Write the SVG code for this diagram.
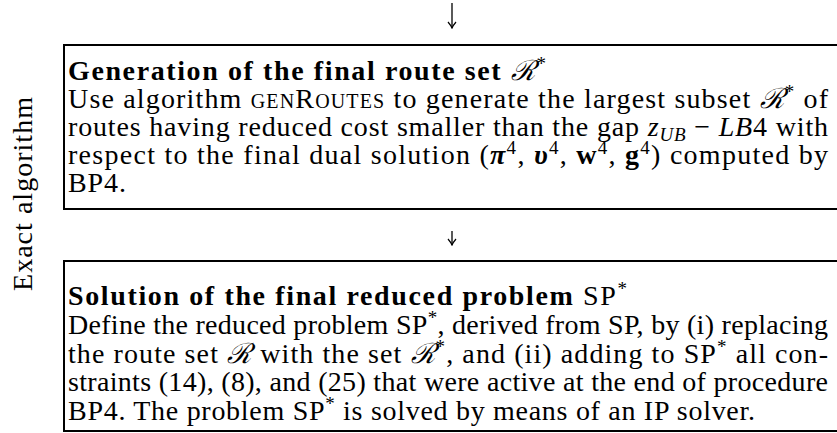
<svg xmlns="http://www.w3.org/2000/svg" width="837" height="433" viewBox="0 0 837 433">
<style>
.t{font-family:"Liberation Serif","Times New Roman",serif;font-size:28px;fill:#000}
.b{font-weight:bold}
.i{font-style:italic}
.bi{font-weight:bold;font-style:italic}
.sc{font-variant:small-caps}
.s{font-size:19px}
.scr{font-family:"DejaVu Serif",serif;font-style:italic;font-weight:normal}
.box{fill:#fff;stroke:#000;stroke-width:2}
.con{stroke:#000;stroke-width:1.3;fill:none}
</style>
<defs>
<marker id="ah" viewBox="-7 -5 8 10" refX="0" refY="0" markerWidth="8" markerHeight="10" markerUnits="userSpaceOnUse" orient="auto">
<path d="M-6,-4 Q-2.5,-1 0,0 Q-2.5,1 -6,4" fill="none" stroke="#000" stroke-width="1.2"/>
</marker>
</defs>
<rect width="837" height="433" fill="#fff"/>
<g id="side-label">
<text class="t" transform="translate(32,194) rotate(-90)" text-anchor="middle" textLength="194" lengthAdjust="spacing">Exact algorithm</text>
</g>
<g id="connectors">
<line class="con" x1="452" y1="3" x2="452" y2="28" marker-end="url(#ah)"/>
<line class="con" x1="452" y1="231" x2="452" y2="245" marker-end="url(#ah)"/>
</g>
<g id="node-generation">
<rect class="box" x="64" y="45" width="790" height="164"/>
<text class="t b" x="68" y="80" textLength="478" lengthAdjust="spacing">Generation of the final route set <tspan class="scr">ℛ</tspan><tspan class="s" dy="-10" style="font-weight:normal">*</tspan></text>
<text class="t" x="68" y="108" textLength="760" lengthAdjust="spacing">Use algorithm <tspan class="sc">genRoutes</tspan> to generate the largest subset <tspan class="scr">ℛ</tspan><tspan class="s" dy="-10">*</tspan><tspan dy="10"> of</tspan></text>
<text class="t" x="68" y="136" textLength="760" lengthAdjust="spacing">routes having reduced cost smaller than the gap <tspan class="i">z</tspan><tspan class="i s" dy="5">UB</tspan><tspan dy="-5"> − </tspan><tspan class="i">LB</tspan>4 with</text>
<text class="t" x="68" y="164" textLength="760" lengthAdjust="spacing">respect to the final dual solution (<tspan class="bi">π</tspan><tspan class="s" dy="-10">4</tspan><tspan dy="10">, </tspan><tspan class="bi">υ</tspan><tspan class="s" dy="-10">4</tspan><tspan dy="10">, </tspan><tspan class="b">w</tspan><tspan class="s" dy="-10">4</tspan><tspan dy="10">, </tspan><tspan class="b">g</tspan><tspan class="s" dy="-10">4</tspan><tspan dy="10">) computed by</tspan></text>
<text class="t" x="68" y="192" textLength="58" lengthAdjust="spacing">BP4.</text>
</g>
<g id="node-solution">
<rect class="box" x="64" y="261" width="790" height="170"/>
<text class="t" x="68" y="305" textLength="559" lengthAdjust="spacing"><tspan class="b">Solution of the final reduced problem</tspan> SP<tspan class="s" dy="-10">*</tspan></text>
<text class="t" x="68" y="334" textLength="760" lengthAdjust="spacing">Define the reduced problem SP<tspan class="s" dy="-10">*</tspan><tspan dy="10">, derived from SP, by (i) replacing</tspan></text>
<text class="t" x="68" y="363" textLength="760" lengthAdjust="spacing">the route set <tspan class="scr">ℛ</tspan> with the set <tspan class="scr">ℛ</tspan><tspan class="s" dy="-10">*</tspan><tspan dy="10">, and (ii) adding to SP</tspan><tspan class="s" dy="-10">*</tspan><tspan dy="10"> all con-</tspan></text>
<text class="t" x="68" y="391" textLength="760" lengthAdjust="spacing">straints (14), (8), and (25) that were active at the end of procedure</text>
<text class="t" x="68" y="420" textLength="687" lengthAdjust="spacing">BP4. The problem SP<tspan class="s" dy="-10">*</tspan><tspan dy="10"> is solved by means of an IP solver.</tspan></text>
</g>
</svg>
